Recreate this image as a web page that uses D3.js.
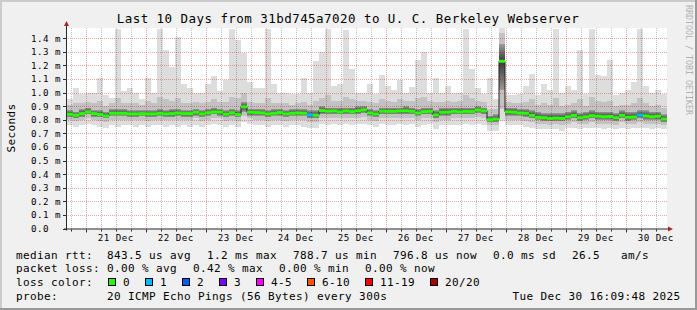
<!DOCTYPE html>
<html><head><meta charset="utf-8">
<script src="https://cdn.jsdelivr.net/npm/d3@7"></script>
<style>
html,body{margin:0;padding:0;background:#f0f0f0;}
svg{display:block;}
text{font-family:"DejaVu Sans Mono",monospace;white-space:pre;}
</style>
</head><body>
<svg id="c" width="697" height="310"></svg>
<script>
// ---------------- DATA ----------------
const titleText = "Last 10 Days from 31bd745a7020 to U. C. Berkeley Webserver";
const startTime = Date.UTC(2025, 11, 20, 16, 30);   // left edge of the graph
const stepHours = 2.4;                              // one sample every 2.4 h
// median round trip time (ms)
const median = [
0.840,0.833,0.845,0.858,0.845,0.838,0.828,0.848,0.848,0.848,
0.843,0.843,0.845,0.843,0.843,0.848,0.843,0.845,0.850,0.845,
0.845,0.856,0.843,0.852,0.858,0.856,0.841,0.852,0.838,0.895,
0.856,0.853,0.851,0.843,0.848,0.853,0.843,0.848,0.850,0.848,
0.836,0.833,0.868,0.863,0.865,0.858,0.865,0.860,0.866,0.873,
0.850,0.842,0.863,0.862,0.862,0.865,0.866,0.862,0.850,0.860,
0.862,0.835,0.855,0.856,0.862,0.858,0.862,0.860,0.872,0.865,
0.800,0.805,1.230,0.858,0.856,0.850,0.848,0.832,0.818,0.815,
0.810,0.812,0.810,0.822,0.832,0.815,0.822,0.830,0.826,0.822,
0.824,0.815,0.832,0.818,0.820,0.834,0.828,0.822,0.826,0.805];
// lost pings per sample (of 20)
const loss = [
0,0,0,0,0,0,0,0,0,0, 0,0,0,0,0,0,0,0,0,0,
0,0,0,0,0,0,0,0,0,0, 0,0,0,0,0,0,0,0,0,0,
1,0,0,0,0,0,0,0,0,0, 0,0,0,0,0,0,0,0,0,0,
0,0,0,0,0,0,0,0,0,0, 0,0,0,0,0,0,0,0,0,0,
0,0,0,0,0,0,0,0,0,0, 0,0,0,0,0,1,0,0,0,0];
// smoke: distribution of the 20 pings per sample (ms)
const pingMin = [
0.76,0.75,0.76,0.77,0.76,0.75,0.74,0.76,0.75,0.76,
0.76,0.75,0.76,0.75,0.76,0.76,0.75,0.76,0.75,0.76,
0.75,0.76,0.75,0.76,0.77,0.76,0.75,0.76,0.75,0.78,
0.77,0.76,0.76,0.75,0.76,0.76,0.75,0.76,0.76,0.75,
0.74,0.74,0.77,0.76,0.77,0.76,0.77,0.76,0.77,0.77,
0.76,0.75,0.77,0.76,0.76,0.77,0.76,0.77,0.75,0.76,
0.77,0.73,0.76,0.76,0.76,0.76,0.77,0.76,0.77,0.76,
0.72,0.72,0.79,0.76,0.76,0.76,0.75,0.74,0.73,0.73,
0.73,0.73,0.72,0.74,0.74,0.73,0.74,0.74,0.74,0.73,
0.74,0.73,0.74,0.73,0.74,0.74,0.74,0.73,0.74,0.73];
const pingP10 = [
0.80,0.79,0.80,0.81,0.80,0.79,0.78,0.80,0.80,0.80,
0.80,0.80,0.80,0.79,0.80,0.80,0.80,0.80,0.80,0.80,
0.80,0.81,0.79,0.80,0.81,0.81,0.79,0.80,0.79,0.83,
0.81,0.80,0.80,0.79,0.80,0.80,0.79,0.80,0.80,0.80,
0.78,0.78,0.81,0.81,0.81,0.81,0.81,0.81,0.81,0.82,
0.80,0.79,0.81,0.81,0.81,0.81,0.81,0.81,0.80,0.81,
0.81,0.78,0.80,0.80,0.81,0.81,0.81,0.81,0.82,0.81,
0.76,0.76,0.88,0.80,0.80,0.80,0.79,0.78,0.77,0.77,
0.76,0.77,0.76,0.77,0.78,0.77,0.77,0.78,0.77,0.77,
0.77,0.76,0.78,0.77,0.77,0.78,0.77,0.77,0.77,0.76];
const pingP25 = [
0.82,0.81,0.82,0.84,0.82,0.82,0.81,0.83,0.83,0.83,
0.82,0.82,0.83,0.82,0.82,0.83,0.82,0.82,0.83,0.82,
0.82,0.83,0.82,0.83,0.84,0.83,0.82,0.83,0.82,0.86,
0.83,0.83,0.83,0.82,0.83,0.83,0.82,0.83,0.83,0.83,
0.81,0.81,0.84,0.84,0.84,0.84,0.84,0.84,0.84,0.85,
0.83,0.82,0.84,0.84,0.84,0.84,0.84,0.84,0.83,0.84,
0.84,0.81,0.83,0.83,0.84,0.84,0.84,0.84,0.85,0.84,
0.78,0.78,1.02,0.83,0.83,0.83,0.82,0.81,0.80,0.79,
0.79,0.79,0.79,0.80,0.81,0.79,0.80,0.81,0.80,0.80,
0.80,0.79,0.81,0.79,0.80,0.81,0.80,0.80,0.80,0.78];
const pingP75 = [
0.87,0.86,0.88,0.89,0.87,0.87,0.86,0.88,0.88,0.88,
0.87,0.87,0.87,0.87,0.87,0.88,0.87,0.88,0.88,0.87,
0.87,0.88,0.87,0.88,0.89,0.88,0.87,0.88,0.87,0.93,
0.88,0.88,0.88,0.87,0.88,0.88,0.87,0.88,0.88,0.88,
0.87,0.87,0.90,0.89,0.89,0.89,0.89,0.89,0.90,0.90,
0.88,0.87,0.89,0.89,0.89,0.89,0.90,0.89,0.88,0.89,
0.89,0.87,0.89,0.89,0.89,0.89,0.89,0.89,0.90,0.89,
0.83,0.84,1.36,0.89,0.89,0.88,0.88,0.87,0.86,0.85,
0.85,0.85,0.85,0.86,0.87,0.85,0.86,0.87,0.86,0.86,
0.86,0.85,0.87,0.86,0.86,0.87,0.87,0.86,0.86,0.84];
const pingP90 = [
0.91,0.92,0.92,0.93,0.92,0.94,0.90,0.92,0.96,0.92,
0.92,0.92,0.91,0.94,0.92,0.97,0.95,0.94,0.96,0.92,
0.92,0.93,0.92,0.93,0.95,0.93,0.93,0.97,0.96,1.00,
0.93,0.92,0.92,0.96,0.92,0.92,0.92,0.91,0.92,0.93,
0.91,0.94,0.96,0.98,0.94,0.94,0.97,0.95,0.94,0.94,
0.93,0.92,0.95,0.94,0.93,0.95,0.94,0.94,0.96,0.97,
0.94,0.93,0.93,0.94,0.93,0.94,0.98,0.96,0.94,0.93,
0.88,0.88,1.44,0.93,0.92,0.92,0.93,0.95,0.91,0.92,
0.91,0.96,0.90,0.91,0.92,0.95,0.90,0.97,0.94,0.93,
0.94,0.90,0.91,0.91,0.92,0.96,0.92,0.90,0.91,0.89];
const pingMax = [
0.95,1.03,0.99,1.00,1.00,1.11,0.98,0.96,1.47,1.01,
1.03,1.00,0.95,1.11,1.00,1.47,1.31,1.19,1.41,1.06,
1.03,1.00,1.00,1.06,1.12,1.01,1.09,1.47,1.39,1.29,
1.08,1.03,1.03,1.47,1.06,1.00,1.00,0.99,0.99,1.11,
1.00,1.23,1.30,1.47,1.05,1.06,1.46,1.17,1.00,1.00,
1.06,0.99,1.13,1.05,1.02,1.09,1.00,1.04,1.24,1.30,
1.00,1.11,1.00,1.05,1.00,1.00,1.47,1.17,1.03,0.99,
1.11,0.95,1.48,0.98,0.98,0.99,1.05,1.14,0.98,1.06,
1.02,1.47,1.00,1.05,1.02,1.31,0.99,1.47,1.13,1.12,
1.24,0.98,1.00,1.02,1.08,1.47,1.05,1.00,1.02,0.99];
// axes
const yTicks = [0,0.1,0.2,0.3,0.4,0.5,0.6,0.7,0.8,0.9,1.0,1.1,1.2,1.3,1.4];
const yTickLabels = ["0.0","0.1 m","0.2 m","0.3 m","0.4 m","0.5 m","0.6 m","0.7 m","0.8 m","0.9 m","1.0 m","1.1 m","1.2 m","1.3 m","1.4 m"];
const dayLabels = ["21 Dec","22 Dec","23 Dec","24 Dec","25 Dec","26 Dec","27 Dec","28 Dec","29 Dec","30 Dec"];
// legend
const rttStats = ["median rtt:  843.5 us avg","1.2 ms max","788.7 us min","796.8 us now","0.0 ms sd","26.5   am/s"];
const lossStats = ["packet loss: 0.00 % avg","0.42 % max","0.00 % min","0.00 % now"];
const lossLabels = ["0","1","2","3","4-5","6-10","11-19","20/20"];
const lossColors = ["#26ff00","#00b8ff","#0059ff","#7e00ff","#ff00ff","#ff5500","#ff0000","#a10000"];
const probeText = "probe:       20 ICMP Echo Pings (56 Bytes) every 300s";
const dateText = "Tue Dec 30 16:09:48 2025";

// ---------------- DRAW ----------------
const svg = d3.select("#c");
const L = 67, R = 667, T = 28, B = 228.5;
const stepMs = stepHours * 3600e3;
const n = median.length;
const x = d3.scaleUtc().domain([new Date(startTime), new Date(startTime + n*stepMs)]).range([L, R]);
const y = d3.scaleLinear().domain([0, 1.475]).range([B, T]);
const majorGridC = "rgba(205,0,0,0.34)", minorGridC = "rgba(0,0,0,0.24)";

// frame
svg.append("rect").attr("width",697).attr("height",310).attr("fill","#f0f0f0");
svg.append("path").attr("d","M0,0H697V2H2V310H0Z").attr("fill","#cbcbcb");
svg.append("path").attr("d","M697,0V310H0V308H695V0Z").attr("fill","#999999");

const defs = svg.append("defs");
defs.append("clipPath").attr("id","clip").append("rect").attr("x",L).attr("y",T).attr("width",R-L).attr("height",B-T);
const gl = defs.append("linearGradient").attr("id","gLow").attr("x1",0).attr("y1",0).attr("x2",0).attr("y2",1);
gl.append("stop").attr("offset","0%").attr("stop-color","#383838");
gl.append("stop").attr("offset","100%").attr("stop-color","#9a9a9a");
const gh = defs.append("linearGradient").attr("id","gHigh").attr("x1",0).attr("y1",0).attr("x2",0).attr("y2",1);
gh.append("stop").attr("offset","0%").attr("stop-color","#a0a0a0");
gh.append("stop").attr("offset","100%").attr("stop-color","#383838");
// dotted patterns for grid lines
const patH = defs.append("pattern").attr("id","dotH").attr("patternUnits","userSpaceOnUse")
  .attr("x",0).attr("y",0).attr("width",2).attr("height",1);
patH.append("rect").attr("x",0).attr("y",0).attr("width",1).attr("height",1).attr("fill",majorGridC);
const patVM = defs.append("pattern").attr("id","dotVM").attr("patternUnits","userSpaceOnUse")
  .attr("x",0).attr("y",0).attr("width",1).attr("height",2);
patVM.append("rect").attr("x",0).attr("y",0).attr("width",1).attr("height",1).attr("fill",majorGridC);
const patVm = defs.append("pattern").attr("id","dotVm").attr("patternUnits","userSpaceOnUse")
  .attr("x",0).attr("y",0).attr("width",1).attr("height",2);
patVm.append("rect").attr("x",0).attr("y",0).attr("width",1).attr("height",1).attr("fill",minorGridC);

// canvas
svg.append("rect").attr("x",L).attr("y",T).attr("width",R-L).attr("height",B-T).attr("fill","#ffffff");

const pts = median.map((m,i)=>({
  t0:new Date(startTime+i*stepMs), t1:new Date(startTime+(i+1)*stepMs),
  med:m, loss:loss[i], min:pingMin[i], p10:pingP10[i], p25:pingP25[i], p75:pingP75[i], p90:pingP90[i], max:pingMax[i]
}));

const smoke = svg.append("g").attr("clip-path","url(#clip)");
function band(lo, hi, fill){
  smoke.append("g").selectAll("rect").data(pts).join("rect")
    .attr("x",d=>x(d.t0)).attr("width",d=>x(d.t1)-x(d.t0))
    .attr("y",d=>y(hi(d))).attr("height",d=>Math.max(0,y(lo(d))-y(hi(d))))
    .attr("fill",fill).attr("shape-rendering","crispEdges");
}
band(d=>d.min, d=>d.max, "#dddddd");
band(d=>d.p10, d=>d.p90, "#c2c2c2");
band(d=>d.p25, d=>d.med, "url(#gLow)");
band(d=>d.med, d=>d.p75, "url(#gHigh)");

// grid
const minorTimes = d3.utcHour.every(6).range(x.domain()[0], x.domain()[1]);
const dayTimes = d3.utcDay.range(x.domain()[0], x.domain()[1]);
svg.append("g").attr("class","grid-minor-x").selectAll("rect")
  .data(minorTimes.filter(t=>t.getUTCHours()!==0)).join("rect")
  .attr("x",d=>Math.round(x(d))).attr("width",1).attr("y",T).attr("height",B-T)
  .attr("fill","url(#dotVm)").attr("shape-rendering","crispEdges");
svg.append("g").attr("class","grid-major-y").selectAll("rect").data(yTicks.slice(1)).join("rect")
  .attr("x",L).attr("width",R-L).attr("y",d=>Math.round(y(d))).attr("height",1)
  .attr("fill","url(#dotH)").attr("shape-rendering","crispEdges");
svg.append("g").attr("class","grid-major-x").selectAll("rect").data(dayTimes).join("rect")
  .attr("x",d=>Math.round(x(d))).attr("width",1).attr("y",T).attr("height",B-T)
  .attr("fill","url(#dotVM)").attr("shape-rendering","crispEdges");

// median: thin dark step line + loss-coloured thick segments
const stepPts = pts.map(d=>[d.t0,d.med]).concat([[pts[n-1].t1, pts[n-1].med]]);
svg.append("path").attr("clip-path","url(#clip)")
  .attr("d", d3.line().x(d=>x(d[0])).y(d=>y(d[1])).curve(d3.curveStepAfter)(stepPts))
  .attr("fill","none").attr("stroke","#202020").attr("stroke-width",1);
function lossIndex(l){ return l<=3 ? l : l<=5 ? 4 : l<=10 ? 5 : l<=19 ? 6 : 7; }
svg.append("g").selectAll("rect").data(pts).join("rect")
  .attr("x",d=>x(d.t0)).attr("width",d=>x(d.t1)-x(d.t0))
  .attr("y",d=>y(d.med)-1.5).attr("height",3)
  .attr("fill",d=>lossColors[lossIndex(d.loss)]);

// axes
const axisC = "#2a2a2a", arrowC = "#a02828";
const gAx = svg.append("g").attr("class","axes");
gAx.append("rect").attr("x",L-1).attr("y",22).attr("width",1).attr("height",B+2-22).attr("fill",axisC);
gAx.append("rect").attr("x",L-3).attr("y",B).attr("width",R+2-(L-3)).attr("height",1).attr("fill",axisC);
gAx.append("path").attr("d",`M${L-3},26L${L+2},26L${L-0.5},21Z`).attr("fill",arrowC);
gAx.append("path").attr("d",`M${R+1},${B-2}L${R+1},${B+3}L${R+6},${B+0.5}Z`).attr("fill",arrowC);
gAx.append("g").selectAll("rect").data(yTicks).join("rect")
  .attr("x",L-4).attr("width",3).attr("y",d=>Math.round(y(d))).attr("height",1).attr("fill",axisC);
gAx.append("g").selectAll("rect").data(minorTimes).join("rect")
  .attr("x",d=>Math.round(x(d))).attr("width",1).attr("y",B+1).attr("height",d=>d.getUTCHours()===0?3:2)
  .attr("fill",axisC);

// tick labels
const gLab = svg.append("g").attr("class","labels");
gLab.append("g").selectAll("text").data(yTicks).join("text")
  .attr("x",31).attr("y",d=>y(d)+3.4).text((d,i)=>yTickLabels[i])
  .attr("font-size","9.2px").attr("letter-spacing","0.46px").attr("fill","#000");
gLab.append("g").selectAll("text").data(dayLabels).join("text")
  .attr("x",(d,i)=>x(new Date(+dayTimes[i] + 12*3600e3))).attr("y",240.7).attr("text-anchor","middle")
  .text(d=>d).attr("font-size","9.2px").attr("letter-spacing","0.46px").attr("fill","#000");

// title and side texts
svg.append("text").attr("x",348).attr("y",23.3).attr("text-anchor","middle")
  .attr("font-size","12.5px").attr("letter-spacing","0.45px").attr("fill","#000").text(titleText);
svg.append("text").attr("transform","translate(15,128) rotate(-90)").attr("text-anchor","middle")
  .attr("font-size","11px").attr("letter-spacing","0.38px").attr("fill","#000").text("Seconds");
svg.append("text").attr("transform","translate(685.5,5) rotate(90)")
  .attr("font-size","8.3px").attr("fill","#b0b0b0").text("RRDTOOL / TOBI OETIKER");

// legend
const CH = 7, GAP = 16;
function legText(str, x0, yb){
  svg.append("text").attr("x",x0).attr("y",yb).attr("font-size","11px").attr("letter-spacing","0.38px").attr("fill","#000").text(str);
  return x0 + str.length*CH;
}
let cx = 16;
rttStats.forEach(s=>{ cx = legText(s, cx, 258.5) + GAP; });
cx = 16;
lossStats.forEach(s=>{ cx = legText(s, cx, 272.3) + GAP; });
cx = legText("loss color:", 16, 286.1) + 15;
lossLabels.forEach((lab,i)=>{
  svg.append("rect").attr("x",cx+0.5).attr("y",278.5).attr("width",7).attr("height",7)
    .attr("fill",lossColors[i]).attr("stroke","#000").attr("stroke-width",1);
  cx = legText(lab, cx+15, 286.1) + 15;
});
legText(probeText, 16, 299.9);
svg.append("text").attr("x",680.5).attr("y",299.9).attr("text-anchor","end")
  .attr("font-size","11px").attr("letter-spacing","0.38px").attr("fill","#000").text(dateText);
</script>
</body></html>
